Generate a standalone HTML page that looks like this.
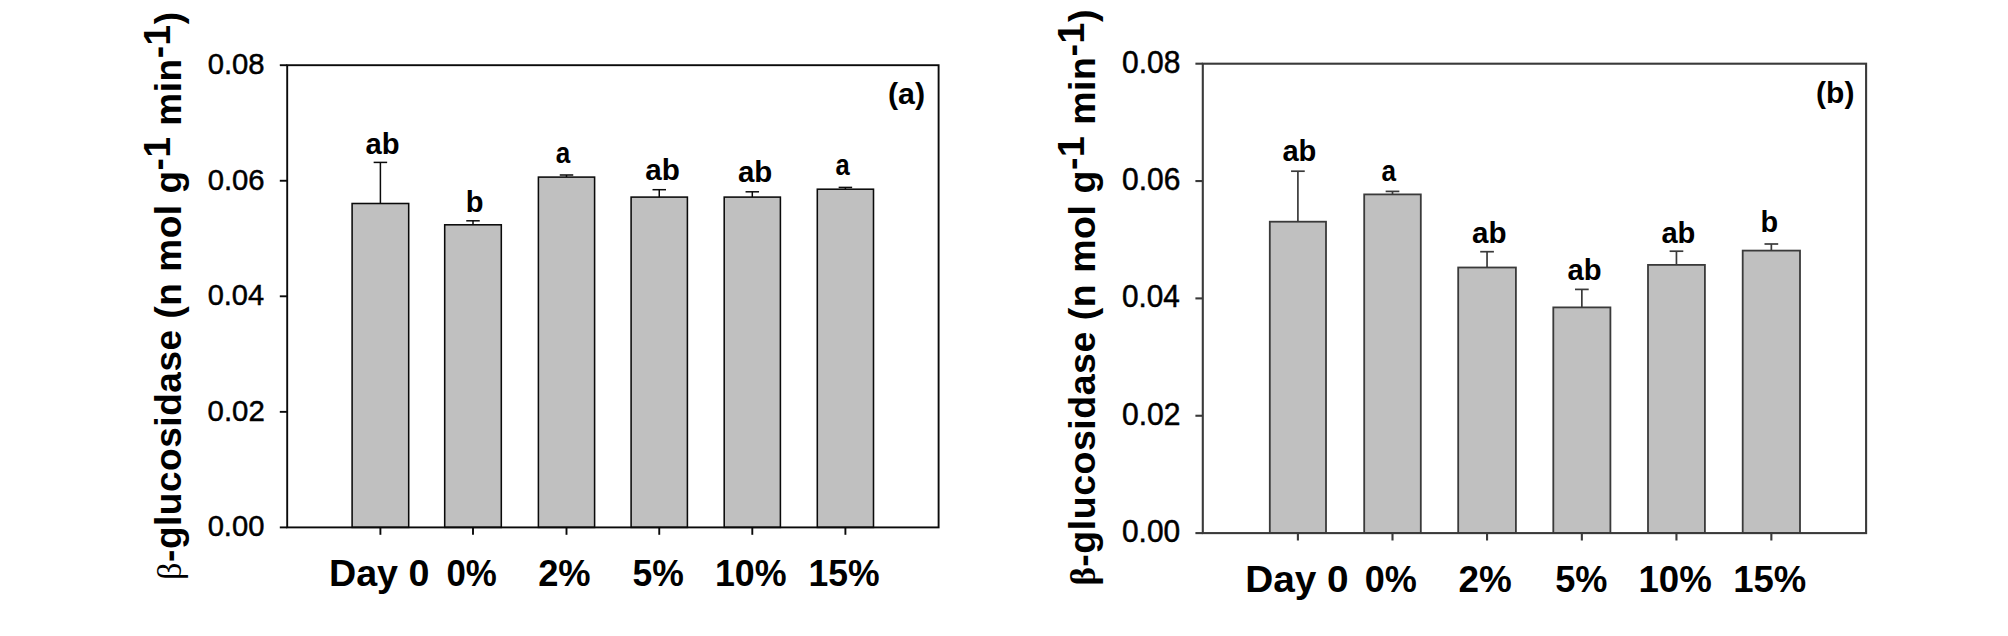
<!DOCTYPE html>
<html lang="en"><head><meta charset="utf-8"><title>β-glucosidase activity</title>
<style>
html,body{margin:0;padding:0;background:#fff;}
body{width:2008px;height:636px;overflow:hidden;}
svg{display:block;}
text{font-family:"Liberation Sans",Arial,Helvetica,sans-serif;fill:#000;}
.b{font-weight:bold;}
.r{font-weight:normal;stroke:#000;stroke-width:0.45px;}
.beta{font-family:"Liberation Serif","DejaVu Serif",serif;font-weight:normal;font-size:93%;}
.betab{font-family:"Liberation Serif","DejaVu Serif",serif;font-weight:bold;font-size:93%;}
</style></head>
<body>
<svg width="2008" height="636" viewBox="0 0 2008 636">
<rect x="0" y="0" width="2008" height="636" fill="#ffffff"/>
<g id="chart-a">
<line x1="380.40" y1="203.50" x2="380.40" y2="162.40" stroke="#0a0a0a" stroke-width="1.5"/>
<line x1="373.65" y1="162.40" x2="387.15" y2="162.40" stroke="#0a0a0a" stroke-width="1.5"/>
<rect x="352.10" y="203.50" width="56.60" height="323.90" fill="#c0c0c0" stroke="#0a0a0a" stroke-width="1.55"/>
<text class="b" font-size="28.8" transform="translate(365.52 153.55) scale(1.0147 1.0000)">ab</text>
<line x1="473.00" y1="224.80" x2="473.00" y2="220.80" stroke="#0a0a0a" stroke-width="1.5"/>
<line x1="466.25" y1="220.80" x2="479.75" y2="220.80" stroke="#0a0a0a" stroke-width="1.5"/>
<rect x="444.70" y="224.80" width="56.60" height="302.60" fill="#c0c0c0" stroke="#0a0a0a" stroke-width="1.55"/>
<text class="b" font-size="28.8" transform="translate(465.71 211.85) scale(1.0107 1.0000)">b</text>
<line x1="566.50" y1="177.10" x2="566.50" y2="175.00" stroke="#0a0a0a" stroke-width="1.5"/>
<line x1="559.75" y1="175.00" x2="573.25" y2="175.00" stroke="#0a0a0a" stroke-width="1.5"/>
<rect x="538.40" y="177.10" width="56.20" height="350.30" fill="#c0c0c0" stroke="#0a0a0a" stroke-width="1.55"/>
<text class="b" font-size="28.8" transform="translate(555.82 163.05) scale(0.9064 1.0000)">a</text>
<line x1="659.25" y1="197.10" x2="659.25" y2="189.70" stroke="#0a0a0a" stroke-width="1.5"/>
<line x1="652.50" y1="189.70" x2="666.00" y2="189.70" stroke="#0a0a0a" stroke-width="1.5"/>
<rect x="631.10" y="197.10" width="56.30" height="330.30" fill="#c0c0c0" stroke="#0a0a0a" stroke-width="1.55"/>
<text class="b" font-size="28.8" transform="translate(645.31 180.35) scale(1.0306 1.0000)">ab</text>
<line x1="752.30" y1="197.10" x2="752.30" y2="191.80" stroke="#0a0a0a" stroke-width="1.5"/>
<line x1="745.55" y1="191.80" x2="759.05" y2="191.80" stroke="#0a0a0a" stroke-width="1.5"/>
<rect x="724.20" y="197.10" width="56.20" height="330.30" fill="#c0c0c0" stroke="#0a0a0a" stroke-width="1.55"/>
<text class="b" font-size="28.8" transform="translate(737.92 181.55) scale(1.0242 1.0000)">ab</text>
<line x1="845.40" y1="189.20" x2="845.40" y2="187.40" stroke="#0a0a0a" stroke-width="1.5"/>
<line x1="838.65" y1="187.40" x2="852.15" y2="187.40" stroke="#0a0a0a" stroke-width="1.5"/>
<rect x="817.30" y="189.20" width="56.20" height="338.20" fill="#c0c0c0" stroke="#0a0a0a" stroke-width="1.55"/>
<text class="b" font-size="28.8" transform="translate(835.43 175.45) scale(0.8868 1.0000)">a</text>
<rect x="287.20" y="65.20" width="651.40" height="462.20" fill="none" stroke="#0a0a0a" stroke-width="1.9"/>
<line x1="279.80" y1="527.40" x2="287.20" y2="527.40" stroke="#0a0a0a" stroke-width="1.9"/>
<text class="r" font-size="28" transform="translate(207.63 536.20) scale(1.0423 1.0850)">0.00</text>
<line x1="279.80" y1="411.85" x2="287.20" y2="411.85" stroke="#0a0a0a" stroke-width="1.9"/>
<text class="r" font-size="28" transform="translate(207.62 420.65) scale(1.0493 1.0850)">0.02</text>
<line x1="279.80" y1="296.30" x2="287.20" y2="296.30" stroke="#0a0a0a" stroke-width="1.9"/>
<text class="r" font-size="28" transform="translate(207.64 305.10) scale(1.0367 1.0850)">0.04</text>
<line x1="279.80" y1="180.75" x2="287.20" y2="180.75" stroke="#0a0a0a" stroke-width="1.9"/>
<text class="r" font-size="28" transform="translate(207.63 189.55) scale(1.0451 1.0850)">0.06</text>
<line x1="279.80" y1="65.20" x2="287.20" y2="65.20" stroke="#0a0a0a" stroke-width="1.9"/>
<text class="r" font-size="28" transform="translate(207.63 74.00) scale(1.0451 1.0850)">0.08</text>
<line x1="380.40" y1="527.40" x2="380.40" y2="534.80" stroke="#0a0a0a" stroke-width="1.9"/>
<text class="b" font-size="36" transform="translate(328.96 586.00) scale(1.0460 1.0170)">Day 0</text>
<line x1="473.00" y1="527.40" x2="473.00" y2="534.80" stroke="#0a0a0a" stroke-width="1.9"/>
<text class="b" font-size="36" transform="translate(446.40 586.00) scale(0.9700 1.0170)">0%</text>
<line x1="566.50" y1="527.40" x2="566.50" y2="534.80" stroke="#0a0a0a" stroke-width="1.9"/>
<text class="b" font-size="36" transform="translate(538.13 586.00) scale(1.0086 1.0170)">2%</text>
<line x1="659.25" y1="527.40" x2="659.25" y2="534.80" stroke="#0a0a0a" stroke-width="1.9"/>
<text class="b" font-size="36" transform="translate(632.43 586.00) scale(0.9870 1.0170)">5%</text>
<line x1="752.30" y1="527.40" x2="752.30" y2="534.80" stroke="#0a0a0a" stroke-width="1.9"/>
<text class="b" font-size="36" transform="translate(714.96 586.00) scale(0.9949 1.0170)">10%</text>
<line x1="845.40" y1="527.40" x2="845.40" y2="534.80" stroke="#0a0a0a" stroke-width="1.9"/>
<text class="b" font-size="36" transform="translate(808.58 586.00) scale(0.9877 1.0170)">15%</text>
<text class="b" font-size="29" transform="translate(887.88 103.60) scale(1.0475 1.0000)">(a)</text>
<text class="b" font-size="37" transform="translate(181.20 580.00) rotate(-90)" textLength="568" lengthAdjust="spacing"><tspan class="beta">β</tspan>-glucosidase (n mol g<tspan dy="-11">-1</tspan><tspan dy="11"> min</tspan><tspan dy="-11">-1</tspan><tspan dy="11">)</tspan></text>
</g>
<g id="chart-b">
<line x1="1297.90" y1="221.70" x2="1297.90" y2="171.20" stroke="#3a3a3a" stroke-width="1.7"/>
<line x1="1291.05" y1="171.20" x2="1304.75" y2="171.20" stroke="#3a3a3a" stroke-width="1.7"/>
<rect x="1269.80" y="221.70" width="56.20" height="311.40" fill="#c0c0c0" stroke="#3a3a3a" stroke-width="1.8"/>
<text class="b" font-size="28.8" transform="translate(1282.43 161.25) scale(1.0115 1.0000)">ab</text>
<line x1="1392.50" y1="194.40" x2="1392.50" y2="191.40" stroke="#3a3a3a" stroke-width="1.7"/>
<line x1="1385.65" y1="191.40" x2="1399.35" y2="191.40" stroke="#3a3a3a" stroke-width="1.7"/>
<rect x="1364.20" y="194.40" width="56.60" height="338.70" fill="#c0c0c0" stroke="#3a3a3a" stroke-width="1.8"/>
<text class="b" font-size="28.8" transform="translate(1381.52 180.85) scale(0.9064 1.0000)">a</text>
<line x1="1487.05" y1="267.50" x2="1487.05" y2="251.70" stroke="#3a3a3a" stroke-width="1.7"/>
<line x1="1480.20" y1="251.70" x2="1493.90" y2="251.70" stroke="#3a3a3a" stroke-width="1.7"/>
<rect x="1458.20" y="267.50" width="57.70" height="265.60" fill="#c0c0c0" stroke="#3a3a3a" stroke-width="1.8"/>
<text class="b" font-size="28.8" transform="translate(1472.01 243.05) scale(1.0274 1.0000)">ab</text>
<line x1="1581.85" y1="307.40" x2="1581.85" y2="289.40" stroke="#3a3a3a" stroke-width="1.7"/>
<line x1="1575.00" y1="289.40" x2="1588.70" y2="289.40" stroke="#3a3a3a" stroke-width="1.7"/>
<rect x="1553.30" y="307.40" width="57.10" height="225.70" fill="#c0c0c0" stroke="#3a3a3a" stroke-width="1.8"/>
<text class="b" font-size="28.8" transform="translate(1567.52 280.35) scale(1.0147 1.0000)">ab</text>
<line x1="1676.45" y1="264.90" x2="1676.45" y2="251.20" stroke="#3a3a3a" stroke-width="1.7"/>
<line x1="1669.60" y1="251.20" x2="1683.30" y2="251.20" stroke="#3a3a3a" stroke-width="1.7"/>
<rect x="1648.00" y="264.90" width="56.90" height="268.20" fill="#c0c0c0" stroke="#3a3a3a" stroke-width="1.8"/>
<text class="b" font-size="28.8" transform="translate(1661.43 242.55) scale(1.0115 1.0000)">ab</text>
<line x1="1771.35" y1="250.60" x2="1771.35" y2="244.00" stroke="#3a3a3a" stroke-width="1.7"/>
<line x1="1764.50" y1="244.00" x2="1778.20" y2="244.00" stroke="#3a3a3a" stroke-width="1.7"/>
<rect x="1742.70" y="250.60" width="57.30" height="282.50" fill="#c0c0c0" stroke="#3a3a3a" stroke-width="1.8"/>
<text class="b" font-size="28.8" transform="translate(1760.62 231.65) scale(1.0039 1.0000)">b</text>
<rect x="1202.80" y="63.70" width="663.30" height="469.40" fill="none" stroke="#3a3a3a" stroke-width="2.1"/>
<line x1="1195.40" y1="533.10" x2="1202.80" y2="533.10" stroke="#3a3a3a" stroke-width="2.1"/>
<text class="r" font-size="28" transform="translate(1122.00 541.90) scale(1.0671 1.1000)">0.00</text>
<line x1="1195.40" y1="415.75" x2="1202.80" y2="415.75" stroke="#3a3a3a" stroke-width="2.1"/>
<text class="r" font-size="28" transform="translate(1122.00 424.55) scale(1.0743 1.1000)">0.02</text>
<line x1="1195.40" y1="298.40" x2="1202.80" y2="298.40" stroke="#3a3a3a" stroke-width="2.1"/>
<text class="r" font-size="28" transform="translate(1122.01 307.20) scale(1.0614 1.1000)">0.04</text>
<line x1="1195.40" y1="181.05" x2="1202.80" y2="181.05" stroke="#3a3a3a" stroke-width="2.1"/>
<text class="r" font-size="28" transform="translate(1122.00 189.85) scale(1.0700 1.1000)">0.06</text>
<line x1="1195.40" y1="63.70" x2="1202.80" y2="63.70" stroke="#3a3a3a" stroke-width="2.1"/>
<text class="r" font-size="28" transform="translate(1122.00 72.50) scale(1.0700 1.1000)">0.08</text>
<line x1="1297.90" y1="533.10" x2="1297.90" y2="540.50" stroke="#3a3a3a" stroke-width="2.1"/>
<text class="b" font-size="36" transform="translate(1245.18 591.80) scale(1.0775 1.0400)">Day 0</text>
<line x1="1392.50" y1="533.10" x2="1392.50" y2="540.50" stroke="#3a3a3a" stroke-width="2.1"/>
<text class="b" font-size="36" transform="translate(1364.76 591.80) scale(1.0022 1.0400)">0%</text>
<line x1="1487.05" y1="533.10" x2="1487.05" y2="540.50" stroke="#3a3a3a" stroke-width="2.1"/>
<text class="b" font-size="36" transform="translate(1458.61 591.80) scale(1.0247 1.0400)">2%</text>
<line x1="1581.85" y1="533.10" x2="1581.85" y2="540.50" stroke="#3a3a3a" stroke-width="2.1"/>
<text class="b" font-size="36" transform="translate(1555.21 591.80) scale(1.0050 1.0400)">5%</text>
<line x1="1676.45" y1="533.10" x2="1676.45" y2="540.50" stroke="#3a3a3a" stroke-width="2.1"/>
<text class="b" font-size="36" transform="translate(1638.41 591.80) scale(1.0182 1.0400)">10%</text>
<line x1="1771.35" y1="533.10" x2="1771.35" y2="540.50" stroke="#3a3a3a" stroke-width="2.1"/>
<text class="b" font-size="36" transform="translate(1733.22 591.80) scale(1.0138 1.0400)">15%</text>
<text class="b" font-size="29" transform="translate(1816.10 102.60) scale(1.0338 1.0000)">(b)</text>
<text class="b" font-size="37.6" transform="translate(1094.90 585.60) rotate(-90)" textLength="576" lengthAdjust="spacing"><tspan class="betab">β</tspan>-glucosidase (n mol g<tspan dy="-11.2">-1</tspan><tspan dy="11.2"> min</tspan><tspan dy="-11.2">-1</tspan><tspan dy="11.2">)</tspan></text>
</g>
</svg>
</body></html>
